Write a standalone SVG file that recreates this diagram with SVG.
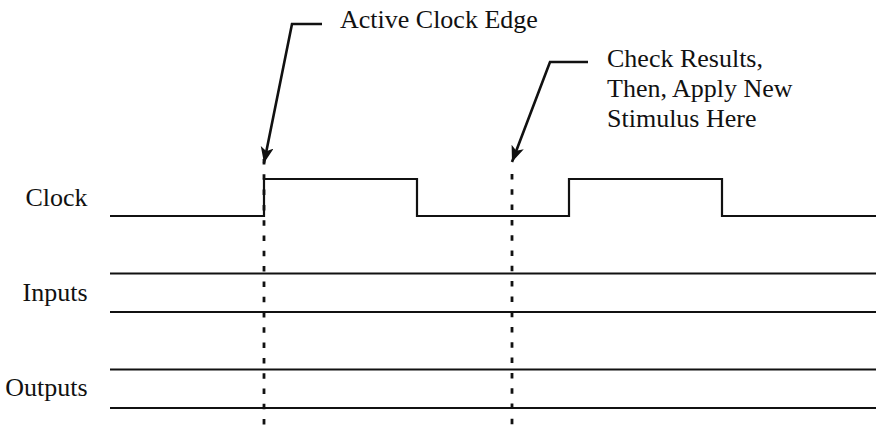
<svg xmlns="http://www.w3.org/2000/svg" width="876" height="426" viewBox="0 0 876 426">
<style>
.lbl{font-family:"Liberation Serif","Times New Roman",serif;font-size:26px;fill:#111}
.sig{fill:none;stroke:#111;stroke-width:2.2}
.dash{fill:none;stroke:#111;stroke-width:2.8;stroke-dasharray:5.5 9.8}
.arr{fill:none;stroke:#111;stroke-width:2.6;marker-end:url(#ah)}
</style>
<defs>
<marker id="ah" markerUnits="userSpaceOnUse" markerWidth="18" markerHeight="14" refX="16" refY="6.5" orient="auto">
<path d="M0,0 L16,6.5 L0,13 L4,6.5 z" fill="#111"/>
</marker>
</defs>
<rect width="876" height="426" fill="#fff"/>
<g id="clock">
<text class="lbl" x="87.5" y="205.5" text-anchor="end">Clock</text>
<path class="sig" d="M110,216 H264 V179 H417 V216 H569 V179 H722 V216 H876"/>
</g>
<g id="inputs">
<text class="lbl" x="87.5" y="300.5" text-anchor="end">Inputs</text>
<path class="sig" d="M110,273.5 H876 M110,312 H876"/>
</g>
<g id="outputs">
<text class="lbl" x="87.5" y="396" text-anchor="end">Outputs</text>
<path class="sig" d="M110,369.5 H876 M110,408 H876"/>
</g>
<g id="label-active">
<text class="lbl" x="340" y="27.5">Active Clock Edge</text>
</g>
<g id="label-check">
<text class="lbl" x="607" y="66.5">Check Results,</text>
<text class="lbl" x="607" y="96.5">Then, Apply New</text>
<text class="lbl" x="607" y="127">Stimulus Here</text>
</g>
<g id="connectors">
<path class="dash" d="M264,159 V426"/>
<path class="dash" d="M512,174 V426"/>
<path class="arr" d="M322,24 H292 L264,163"/>
<path class="arr" d="M588,62 H550 L512,162"/>
</g>
</svg>
